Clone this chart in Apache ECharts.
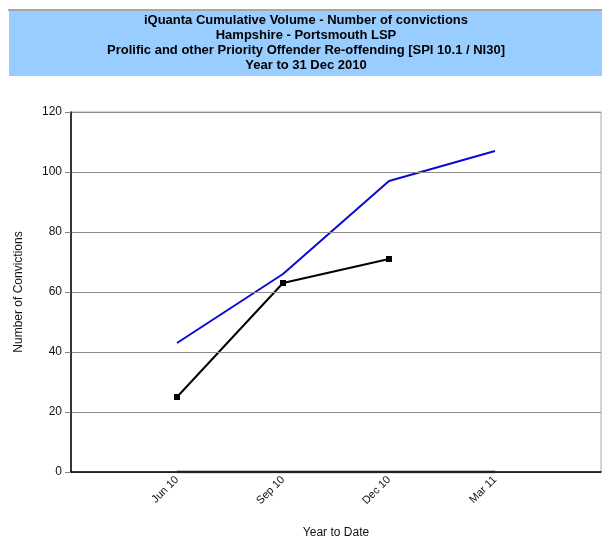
<!DOCTYPE html>
<html>
<head>
<meta charset="utf-8">
<script src="https://cdn.jsdelivr.net/npm/echarts@6/dist/echarts.min.js"></script>
<style>
  html, body { margin: 0; padding: 0; background: #fff; overflow: hidden; }
  #chart { width: 602px; height: 537px; }
</style>
</head>
<body>
<div id="chart"></div>
<script>
// Quarter labels along the x axis
const categories = ['Jun 10', 'Sep 10', 'Dec 10', 'Mar 11'];
// Cumulative volume (blue line)
const volumeSeries = [43, 66, 97, 107];
// Number of convictions (black line with markers)
const convictions = [25, 63, 71];
// Zero reference line
const zeroLine = [0, 0, 0, 0];

const titleLines = [
  'iQuanta Cumulative Volume - Number of convictions',
  'Hampshire - Portsmouth LSP',
  'Prolific and other Priority Offender Re-offending [SPI 10.1 / NI30]',
  'Year to 31 Dec 2010'
];

// One empty slot at each end so the quarters sit inside the plot area
const xData = [''].concat(categories, ['']);
const pad = arr => ['-'].concat(arr);

const chart = echarts.init(document.getElementById('chart'), null, { renderer: 'canvas' });
chart.setOption({
  animation: false,
  backgroundColor: '#ffffff',
  textStyle: { fontFamily: 'Liberation Sans, Arial, sans-serif' },
  graphic: [
    { type: 'rect', x: 8, y: 9, shape: { width: 594, height: 2 }, style: { fill: '#a6a6a6' } },
    { type: 'rect', x: 9, y: 11, shape: { width: 593, height: 65 }, style: { fill: '#99ccff' } },
    {
      type: 'text', x: 306, y: 13,
      style: {
        text: titleLines.join('\n'),
        font: 'bold 13px "Liberation Sans", Arial, sans-serif',
        lineHeight: 15, fill: '#000', align: 'center', verticalAlign: 'top'
      }
    }
  ],
  grid: {
    left: 71, right: 1, top: 112, bottom: 65,
    outerBoundsMode: 'none',
    containLabel: false,
    show: true, borderColor: '#a6a6a6', borderWidth: 1, backgroundColor: 'transparent'
  },
  xAxis: {
    type: 'category',
    data: xData,
    boundaryGap: false,
    z: 5,
    axisLine: { show: true, lineStyle: { color: '#000', width: 1.5 } },
    axisTick: { show: false },
    splitLine: { show: false },
    axisLabel: { rotate: 45, color: '#111', fontSize: 11, margin: 6, interval: 0 },
    name: 'Year to Date',
    nameLocation: 'middle',
    nameGap: 55,
    nameTextStyle: { color: '#111', fontSize: 12 }
  },
  yAxis: {
    type: 'value',
    min: 0, max: 120, interval: 20,
    z: 5,
    axisLine: { show: true, lineStyle: { color: '#000', width: 1.5 } },
    axisTick: { show: true, length: 6, lineStyle: { color: '#808080' } },
    splitLine: { show: true, lineStyle: { color: '#8c8c8c', width: 1 } },
    axisLabel: { color: '#111', fontSize: 12, margin: 9 },
    name: 'Number of Convictions',
    nameLocation: 'middle',
    nameGap: 46,
    nameTextStyle: { color: '#111', fontSize: 12 }
  },
  series: [
    {
      name: 'Zero',
      type: 'line',
      data: pad(zeroLine),
      symbol: 'none',
      z: 1,
      lineStyle: { color: '#808080', width: 3 }
    },
    {
      name: 'Volume',
      type: 'line',
      data: pad(volumeSeries),
      symbol: 'none',
      lineStyle: { color: '#0a0ad2', width: 2 }
    },
    {
      name: 'Convictions',
      type: 'line',
      data: pad(convictions),
      symbol: 'rect',
      symbolSize: 6,
      itemStyle: { color: '#000' },
      lineStyle: { color: '#000', width: 2 }
    }
  ]
});
</script>
</body>
</html>
